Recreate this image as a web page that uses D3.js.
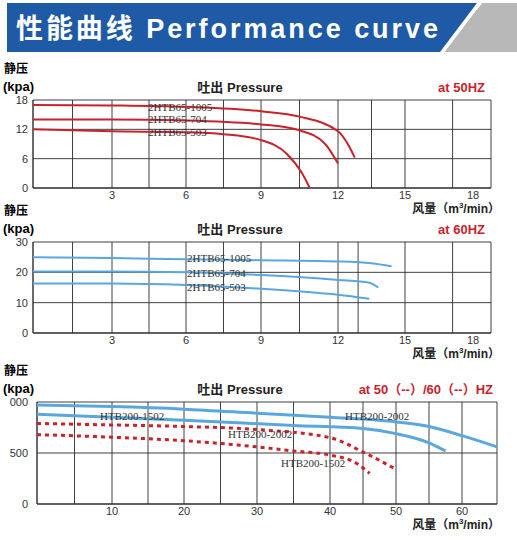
<!DOCTYPE html>
<html><head><meta charset="utf-8">
<script src="https://cdn.jsdelivr.net/npm/d3@7"></script>
<style>body{margin:0;background:#fff;font-family:"Liberation Sans","Noto Sans CJK SC",sans-serif}</style>
</head><body><svg id="c" width="517" height="540"></svg>
<script>
// tick labels
const ticks1 = [3, 6, 9, 12, 15, 18];
const ticks3 = [10, 20, 30, 40, 50, 60];
const grid1 = [1.5, 3, 4.5, 6, 7.5, 9, 10.5, 12, 13.5, 15, 17.1, 18.8];
const grid2 = [1.5, 3, 4.5, 6, 7.5, 9, 10.5, 12, 12.9, 15, 17.1, 18.8];
const grid3 = [5, 10, 15, 20, 25, 30, 35, 40, 45, 50, 55, 60, 65];

// 50HZ small pumps
const c50_1005 = [[0,17],[3,16.9],[6,16.6],[9,15.7],[10.5,14.6],[12,11.6],[12.5,8.5],[12.75,6.2]];
const c50_704 = [[0,14],[3,14],[6,13.8],[9,13],[10.5,11.8],[11.5,9],[12,5]];
const c50_503 = [[0,12],[3,11.6],[6,11.4],[7.5,11],[9,9.8],[10,7],[10.6,3],[10.9,0]];
// 60HZ small pumps
const c60_1005 = [[0,25],[3,24.7],[6,24.3],[9,24],[12,23.6],[13.5,23],[14.4,22]];
const c60_704 = [[0,20.3],[3,20.3],[6,20],[9,19.1],[12,17.5],[13.4,16.6],[13.8,15]];
const c60_503 = [[0,16.3],[3,16.3],[6,15.8],[9,14.6],[12,12.6],[13.4,11.3]];
// large pumps (60HZ solid, 50HZ dotted)
const b60_2002 = [[0,970],[10,955],[20,930],[30,890],[40,850],[50,805],[55,760],[60,670],[65,560]];
const b60_1502 = [[0,880],[10,850],[20,820],[35,770],[45,740],[50,690],[55,600],[57.5,520]];
const b50_2002 = [[0,790],[10,775],[20,760],[30,730],[40,650],[45,510],[50,340]];
const b50_1502 = [[0,680],[10,655],[20,620],[30,560],[35,520],[40,480],[44,400],[46,300]];

const svg = d3.select("#c");
const RED = "#c8232c", BLUE = "#5aa7de", GRID = "#2b2b2b";

// header
svg.append("rect").attr("x", 7).attr("y", 3).attr("width", 470).attr("height", 49).attr("fill", "#1f5aa6");
svg.append("path").attr("d", "M482 3 L517 3 L517 52 L445 52 Z").attr("fill", "#b8b8b8");
svg.append("path").attr("d", "M477 3 L482 3 L445 52 L440 52 Z").attr("fill", "#fff");
svg.append("text").attr("x", 16).attr("y", 38).attr("fill", "#fff")
    .attr("font-size", 27).attr("font-weight", "bold").attr("textLength", 422).text("性能曲线 Performance curve");

function panel(o) {
    const g = svg.append("g");
    const x = d3.scaleLinear().domain(o.xd).range(o.xr);
    const y = d3.scaleLinear().domain(o.yd).range([o.bottom, o.top]);
    // grid
    o.grid.forEach(v => g.append("line").attr("x1", x(v)).attr("x2", x(v))
        .attr("y1", o.top).attr("y2", o.bottom).attr("stroke", GRID).attr("stroke-width", 0.9));
    o.yt.forEach(v => g.append("line").attr("x1", o.xr[0]).attr("x2", o.xr[o.xr.length - 1])
        .attr("y1", y(v)).attr("y2", y(v)).attr("stroke", GRID).attr("stroke-width", v === 0 ? 1.6 : 0.9));
    g.append("line").attr("x1", o.xr[0]).attr("x2", o.xr[0]).attr("y1", o.top).attr("y2", o.bottom)
        .attr("stroke", GRID).attr("stroke-width", 1.4);
    // tick labels
    o.yt.forEach((v, i) => g.append("text").attr("x", 28).attr("y", y(v) + 4).attr("text-anchor", "end")
        .attr("font-size", 11).attr("fill", "#333").text(o.ytl ? o.ytl[i] : v));
    o.xt.forEach(v => g.append("text").attr("x", x(v)).attr("y", o.bottom + 11).attr("text-anchor", "middle")
        .attr("font-size", 11).attr("fill", "#333").text(v));
    // titles
    g.append("text").attr("x", 4).attr("y", o.top - 27).attr("font-size", 12).attr("font-weight", "bold").text("静压");
    g.append("text").attr("x", 3).attr("y", o.top - 9).attr("font-size", 13).attr("font-weight", "bold").text("(kpa)");
    g.append("text").attr("x", 240).attr("y", o.top - 8).attr("text-anchor", "middle")
        .attr("font-size", 13).attr("font-weight", "bold").attr("fill", "#222").text("吐出 Pressure");
    g.append("text").attr("x", o.hzx).attr("y", o.top - 8).attr("text-anchor", "end")
        .attr("font-size", 13).attr("font-weight", "bold").attr("fill", RED).text(o.hz);
    const fl = g.append("text").attr("x", 500).attr("y", o.bottom + 25).attr("text-anchor", "end")
        .attr("font-size", 12).attr("font-weight", "bold").attr("fill", "#222");
    fl.append("tspan").text("风量（m");
    fl.append("tspan").attr("dy", -5).attr("font-size", 8).text("3");
    fl.append("tspan").attr("dy", 5).text("/min）");
    const line = d3.line().x(d => x(d[0])).y(d => y(d[1])).curve(d3.curveMonotoneX);
    o.series.forEach(s => g.append("path").attr("d", line(s.d)).attr("fill", "none")
        .attr("stroke", s.c).attr("stroke-width", s.w || 2)
        .attr("stroke-dasharray", s.dash || null));
    o.labels.forEach(l => g.append("text").attr("x", l[0]).attr("y", l[1])
        .attr("font-family", "Liberation Serif, serif").attr("font-size", 11).attr("fill", "#333").text(l[2]));
}

const xdom = [0, 3, 6, 9, 12, 15, 18, 18.8];
const xran = [33, 112, 186, 261, 338, 405, 473, 491];

panel({xd: xdom, xr: xran, yd: [0, 18], top: 100, bottom: 188, grid: grid1,
    yt: [0, 6, 12, 18], xt: ticks1, hz: "at  50HZ", hzx: 485,
    series: [{d: c50_1005, c: RED}, {d: c50_704, c: RED}, {d: c50_503, c: RED}],
    labels: [[148, 111, "2HTB65-1005"], [148, 123, "2HTB65-704"], [148, 136, "2HTB65-503"]]});

panel({xd: xdom, xr: xran, yd: [0, 30], top: 242, bottom: 333, grid: grid2,
    yt: [0, 10, 20, 30], xt: ticks1, hz: "at  60HZ", hzx: 485,
    series: [{d: c60_1005, c: BLUE}, {d: c60_704, c: BLUE}, {d: c60_503, c: BLUE}],
    labels: [[187, 262, "2HTB65-1005"], [187, 277, "2HTB65-704"], [187, 291, "2HTB65-503"]]});

panel({xd: [0, 10, 20, 30, 40, 50, 60, 65], xr: [37, 112, 184, 257, 330, 396, 462, 497],
    yd: [0, 1000], top: 402, bottom: 504, grid: grid3,
    yt: [0, 500, 1000], ytl: ["0", "500", "000"], xt: ticks3, hz: "at  50（--）/60（--）HZ", hzx: 493,
    series: [{d: b60_2002, c: BLUE, w: 3}, {d: b60_1502, c: BLUE, w: 3},
        {d: b50_2002, c: RED, w: 3, dash: "4,4"}, {d: b50_1502, c: RED, w: 3, dash: "4,4"}],
    labels: [[100, 420, "HTB200-1502"], [345, 420, "HTB200-2002"], [228, 438, "HTB200-2002"], [281, 467, "HTB200-1502"]]});
</script></body></html>
